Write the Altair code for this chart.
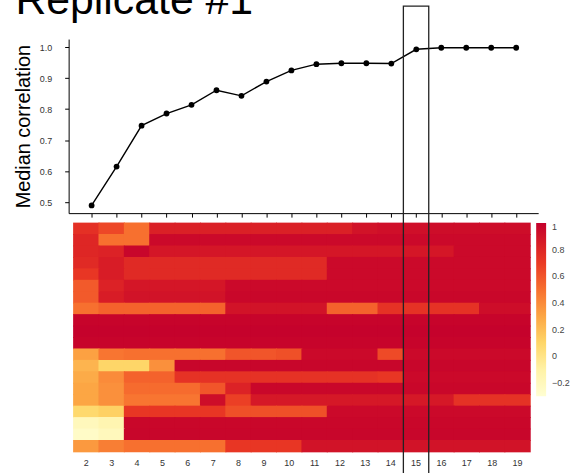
import altair as alt
import pandas as pd

# ---- data ----
sizes = list(range(2, 20))
median_corr = [0.49, 0.615, 0.747, 0.786, 0.814, 0.861, 0.843, 0.889, 0.925,
               0.945, 0.948, 0.948, 0.947, 0.993, 0.998, 0.998, 0.998, 0.998]
highlight_size = [15]

# heat map rows (top to bottom), one value per subset size 2..19
row_01 = [0.75, 0.65, 0.50, 0.83, 0.83, 0.83, 0.83, 0.83, 0.83, 0.83, 0.83, 0.90, 0.92, 0.92, 0.93, 0.93, 0.93, 0.93]
row_02 = [0.80, 0.50, 0.50, 0.95, 0.95, 0.95, 0.95, 0.95, 0.95, 0.95, 0.95, 0.95, 0.95, 0.95, 0.95, 0.95, 0.95, 0.95]
row_03 = [0.80, 0.82, 0.97, 0.88, 0.88, 0.88, 0.88, 0.88, 0.88, 0.88, 0.88, 0.88, 0.88, 0.88, 0.88, 0.95, 0.95, 0.95]
row_04 = [0.78, 0.85, 0.78, 0.78, 0.78, 0.78, 0.78, 0.78, 0.78, 0.78, 0.95, 0.95, 0.95, 0.95, 0.95, 0.95, 0.95, 0.95]
row_05 = [0.72, 0.85, 0.78, 0.78, 0.78, 0.78, 0.78, 0.78, 0.78, 0.78, 0.95, 0.95, 0.95, 0.95, 0.95, 0.95, 0.95, 0.95]
row_06 = [0.58, 0.82, 0.88, 0.88, 0.88, 0.88, 0.95, 0.95, 0.95, 0.95, 0.95, 0.95, 0.95, 0.95, 0.95, 0.95, 0.95, 0.95]
row_07 = [0.58, 0.85, 0.90, 0.90, 0.90, 0.90, 0.96, 0.96, 0.96, 0.96, 0.96, 0.96, 0.96, 0.96, 0.96, 0.96, 0.96, 0.96]
row_08 = [0.50, 0.55, 0.55, 0.55, 0.55, 0.55, 0.90, 0.90, 0.90, 0.90, 0.55, 0.55, 0.74, 0.74, 0.74, 0.74, 0.93, 0.93]
row_09 = [0.98, 0.98, 0.98, 0.98, 0.98, 0.98, 0.98, 0.98, 0.98, 0.98, 0.98, 0.98, 0.98, 0.98, 0.98, 0.98, 0.98, 0.98]
row_10 = [0.99, 0.99, 0.99, 0.99, 0.99, 0.99, 0.99, 0.99, 0.99, 0.99, 0.99, 0.99, 0.99, 0.99, 0.99, 0.99, 0.99, 0.99]
row_11 = [0.98, 0.98, 0.98, 0.98, 0.98, 0.98, 0.98, 0.98, 0.98, 0.98, 0.98, 0.98, 0.98, 0.98, 0.98, 0.98, 0.98, 0.98]
row_12 = [0.32, 0.48, 0.50, 0.50, 0.50, 0.50, 0.60, 0.60, 0.62, 0.95, 0.95, 0.95, 0.64, 0.95, 0.95, 0.95, 0.95, 0.95]
row_13 = [0.24, 0.10, 0.10, 0.38, 0.97, 0.97, 0.97, 0.97, 0.97, 0.97, 0.97, 0.97, 0.97, 0.97, 0.97, 0.97, 0.97, 0.97]
row_14 = [0.28, 0.40, 0.55, 0.55, 0.74, 0.74, 0.74, 0.74, 0.74, 0.74, 0.74, 0.74, 0.72, 0.95, 0.95, 0.95, 0.95, 0.95]
row_15 = [0.30, 0.38, 0.52, 0.52, 0.52, 0.60, 0.82, 0.96, 0.96, 0.96, 0.96, 0.96, 0.96, 0.96, 0.96, 0.96, 0.96, 0.96]
row_16 = [0.30, 0.38, 0.48, 0.48, 0.48, 0.93, 0.68, 0.87, 0.87, 0.87, 0.87, 0.87, 0.87, 0.87, 0.87, 0.74, 0.74, 0.74]
row_17 = [0.08, 0.12, 0.72, 0.72, 0.72, 0.72, 0.62, 0.62, 0.62, 0.62, 0.95, 0.95, 0.95, 0.95, 0.95, 0.95, 0.95, 0.95]
row_18 = [-0.20, -0.15, 0.96, 0.96, 0.96, 0.96, 0.96, 0.96, 0.96, 0.96, 0.96, 0.96, 0.96, 0.96, 0.96, 0.96, 0.96, 0.96]
row_19 = [-0.25, -0.20, 0.97, 0.97, 0.97, 0.97, 0.97, 0.97, 0.97, 0.97, 0.97, 0.97, 0.97, 0.97, 0.97, 0.97, 0.97, 0.97]
row_20 = [0.35, 0.45, 0.50, 0.50, 0.50, 0.50, 0.72, 0.72, 0.72, 0.90, 0.90, 0.90, 0.90, 0.90, 0.90, 0.90, 0.90, 0.90]
heat_rows = [row_01, row_02, row_03, row_04, row_05, row_06, row_07, row_08, row_09, row_10,
             row_11, row_12, row_13, row_14, row_15, row_16, row_17, row_18, row_19, row_20]

legend_values = [1, 0.8, 0.6, 0.4, 0.2, 0, -0.2]
y_ticks = [0.5, 0.6, 0.7, 0.8, 0.9, 1.0]
color_domain = [-0.3, -0.1, 0.1, 0.3, 0.5, 0.7, 0.85, 1.0]
color_range = ["#fffed2", "#fff2a6", "#fed668", "#fca644", "#f7702f", "#ea3a24", "#d81c26", "#c4002c"]

# ---- tables ----
line_df = pd.DataFrame({"size": sizes, "corr": median_corr})
heat_df = pd.DataFrame([
    {"row": r, "size": s, "value": v}
    for r, row in enumerate(heat_rows)
    for s, v in zip(sizes, row)
])
hl_df = pd.DataFrame({"size": highlight_size})

# ---- top panel: median correlation ----
x_top = alt.X("size:Q",
              scale=alt.Scale(domain=[1.08, 19.88], nice=False, zero=False),
              axis=alt.Axis(values=sizes, labels=False, ticks=True, tickSize=4,
                            tickColor="black", domainColor="black", grid=False, title=None))
y_top = alt.Y("corr:Q",
              scale=alt.Scale(domain=[0.465, 1.026], nice=False, zero=False),
              axis=alt.Axis(values=y_ticks, format=".1f", title="Median correlation",
                            titleFontSize=20, titleFontWeight="normal", titleColor="black",
                            titlePadding=6, labelFontSize=9, labelColor="#333",
                            labelPadding=13, labelOverlap=False, tickSize=4,
                            tickColor="black", domainColor="black", grid=False))

line = alt.Chart(line_df).mark_line(color="black", strokeWidth=1.4).encode(x=x_top, y=y_top)
pts = alt.Chart(line_df).mark_circle(color="black", size=34, opacity=1).encode(x=x_top, y=y_top)
top = alt.layer(line, pts).properties(width=472, height=175)

# ---- bottom panel: heat map ----
x_heat = alt.X("size:O",
               scale=alt.Scale(paddingInner=0, paddingOuter=0.255, align=0.385),
               axis=alt.Axis(labelAngle=0, ticks=False, domain=False, grid=False, title=None,
                             labelFontSize=9, labelColor="#333", labelPadding=7))
heat_scale = alt.Scale(domain=color_domain, range=color_range, interpolate="rgb")
heat = alt.Chart(heat_df).mark_rect(
    width=alt.RelativeBandSize(1.04), height=alt.RelativeBandSize(1.08)
).encode(
    x=x_heat,
    y=alt.Y("row:O", axis=None, scale=alt.Scale(paddingInner=0, paddingOuter=0)),
    color=alt.Color("value:Q", scale=heat_scale,
                    legend=alt.Legend(type="gradient", title=None, orient="none",
                                      legendX=470, legendY=0,
                                      direction="vertical", gradientLength=174,
                                      gradientThickness=10, values=legend_values,
                                      format="~g", labelFontSize=9, labelColor="#444",
                                      labelOffset=6, gradientStrokeWidth=0)),
)
box = alt.Chart(hl_df).mark_rect(fillOpacity=0, stroke="#222", strokeWidth=1.3).encode(
    x="size:O",
    y=alt.value(-218),
    y2=alt.value(253),
)
bottom = alt.layer(heat, box).properties(width=472, height=230)

chart = alt.vconcat(top, bottom, spacing=10, bounds="flush").resolve_scale(
    color="independent").resolve_legend(color="independent").properties(
    title=alt.TitleParams("Replicate #1", fontSize=43, font="Liberation Sans",
                          fontWeight="normal", anchor="start", color="black",
                          baseline="alphabetic", offset=-51, dx=2),
    padding={"top": -22, "left": 13, "right": 0, "bottom": 0},
).configure(font="Liberation Sans").configure_view(stroke=None)

chart.save("out.html", embed_options={"renderer": "svg", "actions": False})
